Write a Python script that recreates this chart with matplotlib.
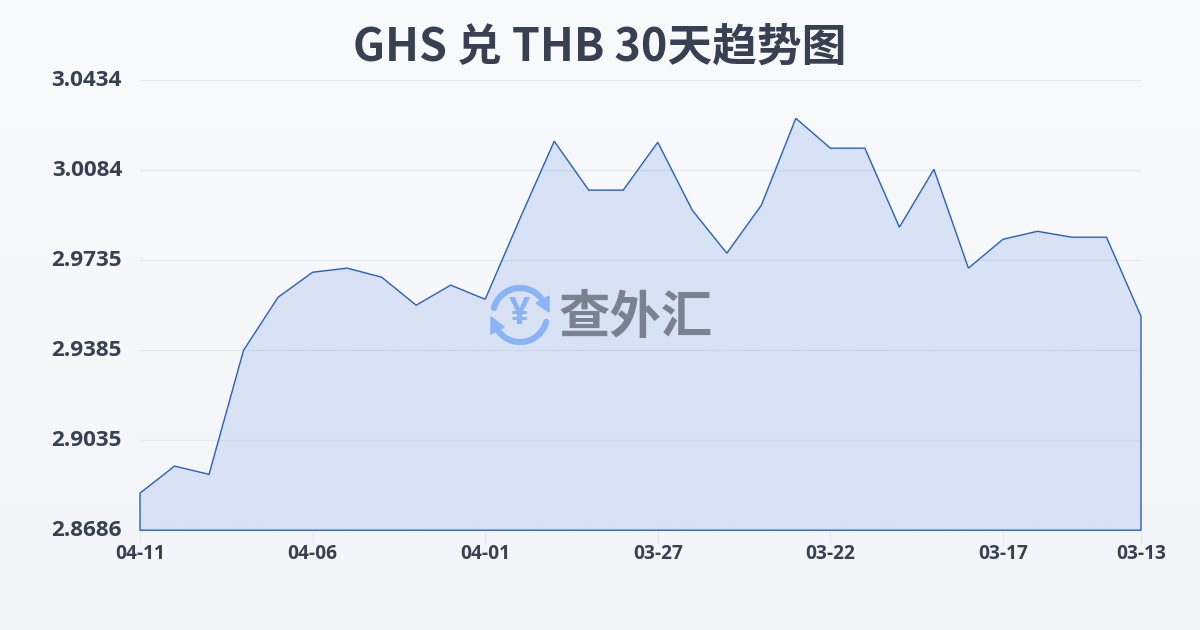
import numpy as np
import matplotlib
matplotlib.use('Agg')
import matplotlib.pyplot as plt
from matplotlib.patches import Arc, Polygon
from matplotlib.transforms import ScaledTranslation

plt.rcParams['font.family'] = ['Noto Sans CJK SC', 'DejaVu Sans']

# data
dates = ['04-11', '04-10', '04-09', '04-08', '04-07', '04-06', '04-05', '04-04', '04-03', '04-02',
         '04-01', '03-31', '03-30', '03-29', '03-28', '03-27', '03-26', '03-25', '03-24', '03-23',
         '03-22', '03-21', '03-20', '03-19', '03-18', '03-17', '03-16', '03-15', '03-14', '03-13']
rates = [2.8830, 2.8935, 2.8903, 2.9385, 2.9591, 2.9688, 2.9704, 2.9669, 2.9560, 2.9638,
         2.9583, 2.9894, 3.0197, 3.0007, 3.0007, 3.0193, 2.9929, 2.9762, 2.9948, 3.0286,
         3.0170, 3.0170, 2.9863, 3.0088, 2.9704, 2.9816, 2.9847, 2.9824, 2.9824, 2.9517]
y_ticks = [2.8686, 2.9035, 2.9385, 2.9735, 3.0084, 3.0434]
x_tick_idx = [0, 5, 10, 15, 20, 25, 29]

W, H = 1200, 630
fig = plt.figure(figsize=(12, 6.3), dpi=100)

# page background, light vertical gradient
bg = fig.add_axes([0, 0, 1, 1], zorder=0)
bg.axis('off')
grad = np.linspace(0, 1, 256).reshape(-1, 1)
top_c = np.array([249, 250, 252]) / 255
bot_c = np.array([243, 245, 248]) / 255
bg.imshow(top_c + (bot_c - top_c) * grad[:, :, None], aspect='auto', extent=[0, 1, 0, 1])

ax = fig.add_axes([140 / W, 1 - 530.2 / H, 1001 / W, 450 / H], zorder=1)
ax.patch.set_alpha(0)
x = np.arange(len(rates))
ax.set_xlim(0, len(rates) - 1)
ax.set_ylim(y_ticks[0], y_ticks[-1])

ax.grid(axis='y', color='#e8eaee', lw=1)
ax.set_axisbelow(True)

# area fill with a soft gradient, clipped to the line
fill_grad = np.zeros((256, 2, 4))
fill_grad[:, :, :3] = np.array([37, 99, 220]) / 255
fill_grad[:, :, 3] = np.linspace(0.15, 0.13, 256)[:, None]
im = ax.imshow(fill_grad, aspect='auto', extent=[0, len(rates) - 1, y_ticks[0], y_ticks[-1]],
               origin='upper', zorder=2)
outline = list(zip(x, rates)) + [(x[-1], y_ticks[0]), (0, y_ticks[0])]
area = Polygon(outline, closed=True, facecolor='none', edgecolor='#2a5fc4', lw=1, zorder=3)
area.set_clip_on(False)
ax.add_patch(area)
im.set_clip_path(area)

for s in ax.spines.values():
    s.set_visible(False)
ax.set_yticks(y_ticks)
ax.set_yticklabels(['%.4f' % v for v in y_ticks], fontsize=16.2, fontweight='bold', color='#374151',
                   fontfamily='Open Sans')
ax.set_xticks(x_tick_idx)
ax.set_xticklabels([dates[i] for i in x_tick_idx], fontsize=13.8, fontweight='bold', color='#374151',
                   fontfamily='Open Sans')
ax.tick_params(axis='y', length=0, pad=13)
ax.tick_params(axis='x', length=10, width=1, color='#e8eaee', pad=0)
nudge = ScaledTranslation(0, 2 / 100, fig.dpi_scale_trans)
for lab in ax.get_yticklabels():
    lab.set_transform(lab.get_transform() + nudge)

fig.text(600 / W, 1 - 48 / H, 'GHS 兑 THB 30天趋势图', ha='center', va='center', fontsize=32.2,
         fontweight='bold', color='#374151')

# watermark: icon plus name
ov = fig.add_axes([0, 0, 1, 1], zorder=5)
ov.set_xlim(0, W)
ov.set_ylim(H, 0)
ov.axis('off')
blue = '#8ab4f8'
ov.add_patch(Arc((520, 315), 54, 54, theta1=195, theta2=320, color=blue, lw=4.5, capstyle='round'))
ov.add_patch(Arc((520, 315), 54, 54, theta1=15, theta2=140, color=blue, lw=4.5, capstyle='round'))
ov.add_patch(Polygon([(536, 303), (549, 296), (549, 312)], color=blue))
ov.add_patch(Polygon([(504, 327), (491, 317), (491, 334)], color=blue))
ov.text(520, 314, '¥', ha='center', va='center', fontsize=27, fontweight='bold', color=blue,
        fontfamily='Open Sans')
ov.text(636, 318, '查外汇', ha='center', va='center', fontsize=37, fontweight='bold', color='#7a8292')

fig.savefig('out.png', dpi=100)
